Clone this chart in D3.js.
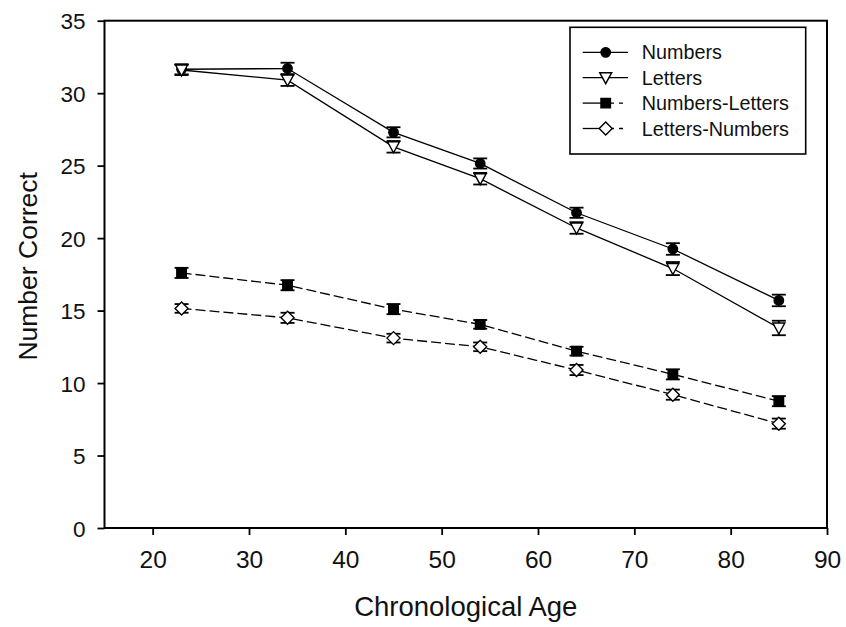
<!DOCTYPE html>
<html>
<head>
<meta charset="utf-8">
<script src="https://cdn.jsdelivr.net/npm/d3@7"></script>
<style>
	body { margin: 0; background: #fff; }
	text { font-family: "Liberation Sans", Arial, sans-serif; fill: #111; }
</style>
</head>
<body>
<svg id="chart" width="846" height="627"></svg>
<script>
// ages of the seven groups
const ages = [23, 34, 45, 54, 64, 74, 85];

const numbers = [31.65, 31.7, 27.3, 25.15, 21.75, 19.25, 15.7];
const letters = [31.6, 30.9, 26.3, 24.1, 20.7, 17.9, 13.8];
const numbersLetters = [17.6, 16.75, 15.1, 14.05, 12.2, 10.6, 8.75];
const lettersNumbers = [15.15, 14.5, 13.1, 12.5, 10.9, 9.2, 7.2];

// standard errors
const numbersErr = [0.35, 0.4, 0.35, 0.35, 0.35, 0.4, 0.4];
const lettersErr = [0.35, 0.4, 0.4, 0.4, 0.4, 0.45, 0.5];
const numbersLettersErr = [0.35, 0.35, 0.35, 0.3, 0.3, 0.35, 0.35];
const lettersNumbersErr = [0.3, 0.35, 0.3, 0.3, 0.35, 0.35, 0.35];

const xTicks = [20, 30, 40, 50, 60, 70, 80, 90];
const yTicks = [0, 5, 10, 15, 20, 25, 30, 35];

const seriesNames = ['Numbers', 'Letters', 'Numbers-Letters', 'Letters-Numbers'];

const series = [
	{ name: seriesNames[0], values: numbers, err: numbersErr, symbol: 'circle', fill: '#000', dash: null },
	{ name: seriesNames[1], values: letters, err: lettersErr, symbol: 'triangle', fill: '#fff', dash: null },
	{ name: seriesNames[2], values: numbersLetters, err: numbersLettersErr, symbol: 'square', fill: '#000', dash: '10,4' },
	{ name: seriesNames[3], values: lettersNumbers, err: lettersNumbersErr, symbol: 'diamond', fill: '#fff', dash: '10,4' }
];

const margin = { top: 20.7, right: 19, bottom: 99, left: 104.5 };
const W = 846, H = 627;
const w = W - margin.left - margin.right;
const h = H - margin.top - margin.bottom;

const svg = d3.select('#chart');
const g = svg.append('g').attr('transform', `translate(${margin.left},${margin.top})`);

const x = d3.scaleLinear().domain([15, 90]).range([0, w]);
const y = d3.scaleLinear().domain([0, 35]).range([h, 0]);

// axes
const xAxis = g.append('g')
	.attr('transform', `translate(0,${h})`)
	.call(d3.axisBottom(x).tickValues(xTicks).tickSizeOuter(0).tickSize(7).tickPadding(10));
const yAxis = g.append('g')
	.call(d3.axisLeft(y).tickValues(yTicks).tickSizeOuter(0).tickSize(7).tickPadding(12));

xAxis.selectAll('text').style('font-size', '24.5px').attr('dy', '0.95em');
yAxis.selectAll('text').style('font-size', '22.5px').attr('dy', '0.36em');
[xAxis, yAxis].forEach(a => {
	a.select('.domain').remove();
	a.selectAll('line').attr('stroke', '#000').attr('stroke-width', 1.8);
});

// frame
g.append('rect')
	.attr('x', 0).attr('y', 0)
	.attr('width', w).attr('height', h)
	.attr('fill', 'none')
	.attr('stroke', '#000')
	.attr('stroke-width', 2);

// axis titles
svg.append('text')
	.attr('x', margin.left + w / 2)
	.attr('y', 616)
	.attr('text-anchor', 'middle')
	.style('font-size', '27.5px')
	.text('Chronological Age');

svg.append('text')
	.attr('transform', `translate(37,${margin.top + h / 2 - 8}) rotate(-90)`)
	.attr('text-anchor', 'middle')
	.style('font-size', '26.5px')
	.text('Number Correct');

const symbols = {
	circle: d3.symbol().type(d3.symbolCircle).size(70),
	square: d3.symbol().type(d3.symbolSquare).size(90)
};
// downward triangle and a wide diamond
const triPath = 'M-6,-5L6,-5L0,6Z';
const diaPath = 'M0,-6.5L6.5,0L0,6.5L-6.5,0Z';

function drawMarker(sel, s) {
	let d;
	if (s.symbol === 'triangle') d = triPath;
	else if (s.symbol === 'diamond') d = diaPath;
	else d = symbols[s.symbol]();
	sel.append('path')
		.attr('d', d)
		.attr('fill', s.fill)
		.attr('stroke', '#000')
		.attr('stroke-width', 1.4);
}

const line = d3.line()
	.x((d, i) => x(ages[i]))
	.y(d => y(d));

for (let s of series) {
	const sg = g.append('g');
	sg.append('path')
		.datum(s.values)
		.attr('d', line)
		.attr('fill', 'none')
		.attr('stroke', '#000')
		.attr('stroke-width', 1.3)
		.attr('stroke-dasharray', s.dash);

	// error bars
	const eb = sg.selectAll('.eb').data(s.values).enter().append('g').attr('class', 'eb');
	eb.append('line')
		.attr('x1', (d, i) => x(ages[i])).attr('x2', (d, i) => x(ages[i]))
		.attr('y1', (d, i) => y(d + s.err[i])).attr('y2', (d, i) => y(d - s.err[i]));
	eb.append('line')
		.attr('x1', (d, i) => x(ages[i]) - 7).attr('x2', (d, i) => x(ages[i]) + 7)
		.attr('y1', (d, i) => y(d + s.err[i])).attr('y2', (d, i) => y(d + s.err[i]));
	eb.append('line')
		.attr('x1', (d, i) => x(ages[i]) - 7).attr('x2', (d, i) => x(ages[i]) + 7)
		.attr('y1', (d, i) => y(d - s.err[i])).attr('y2', (d, i) => y(d - s.err[i]));
	eb.selectAll('line').attr('stroke', '#000').attr('stroke-width', 1.8);

	sg.selectAll('.pt').data(s.values).enter()
		.append('g')
		.attr('class', 'pt')
		.attr('transform', (d, i) => `translate(${x(ages[i])},${y(d)})`)
		.each(function() { drawMarker(d3.select(this), s); });
}

// legend
const lg = svg.append('g').attr('transform', 'translate(570,27.3)');
lg.append('rect')
	.attr('width', 235.7).attr('height', 126.7)
	.attr('fill', '#fff')
	.attr('stroke', '#000')
	.attr('stroke-width', 1.6);

series.forEach((s, i) => {
	const row = lg.append('g').attr('transform', `translate(0,${25 + i * 25.4})`);
	if (s.dash) {
		row.append('line').attr('x1', 12.7).attr('x2', 35.7).attr('stroke', '#000').attr('stroke-width', 1.3);
		row.append('line').attr('x1', 40).attr('x2', 58).attr('stroke', '#000').attr('stroke-width', 1.3)
			.attr('stroke-dasharray', '4,5');
	} else {
		row.append('line').attr('x1', 12.7).attr('x2', 58).attr('stroke', '#000').attr('stroke-width', 1.3);
	}
	const m = row.append('g').attr('transform', 'translate(35.7,0)');
	drawMarker(m, s);
	row.append('text')
		.attr('x', 71.7)
		.attr('dy', '0.36em')
		.style('font-size', '19.8px')
		.text(s.name);
});
</script>
</body>
</html>
